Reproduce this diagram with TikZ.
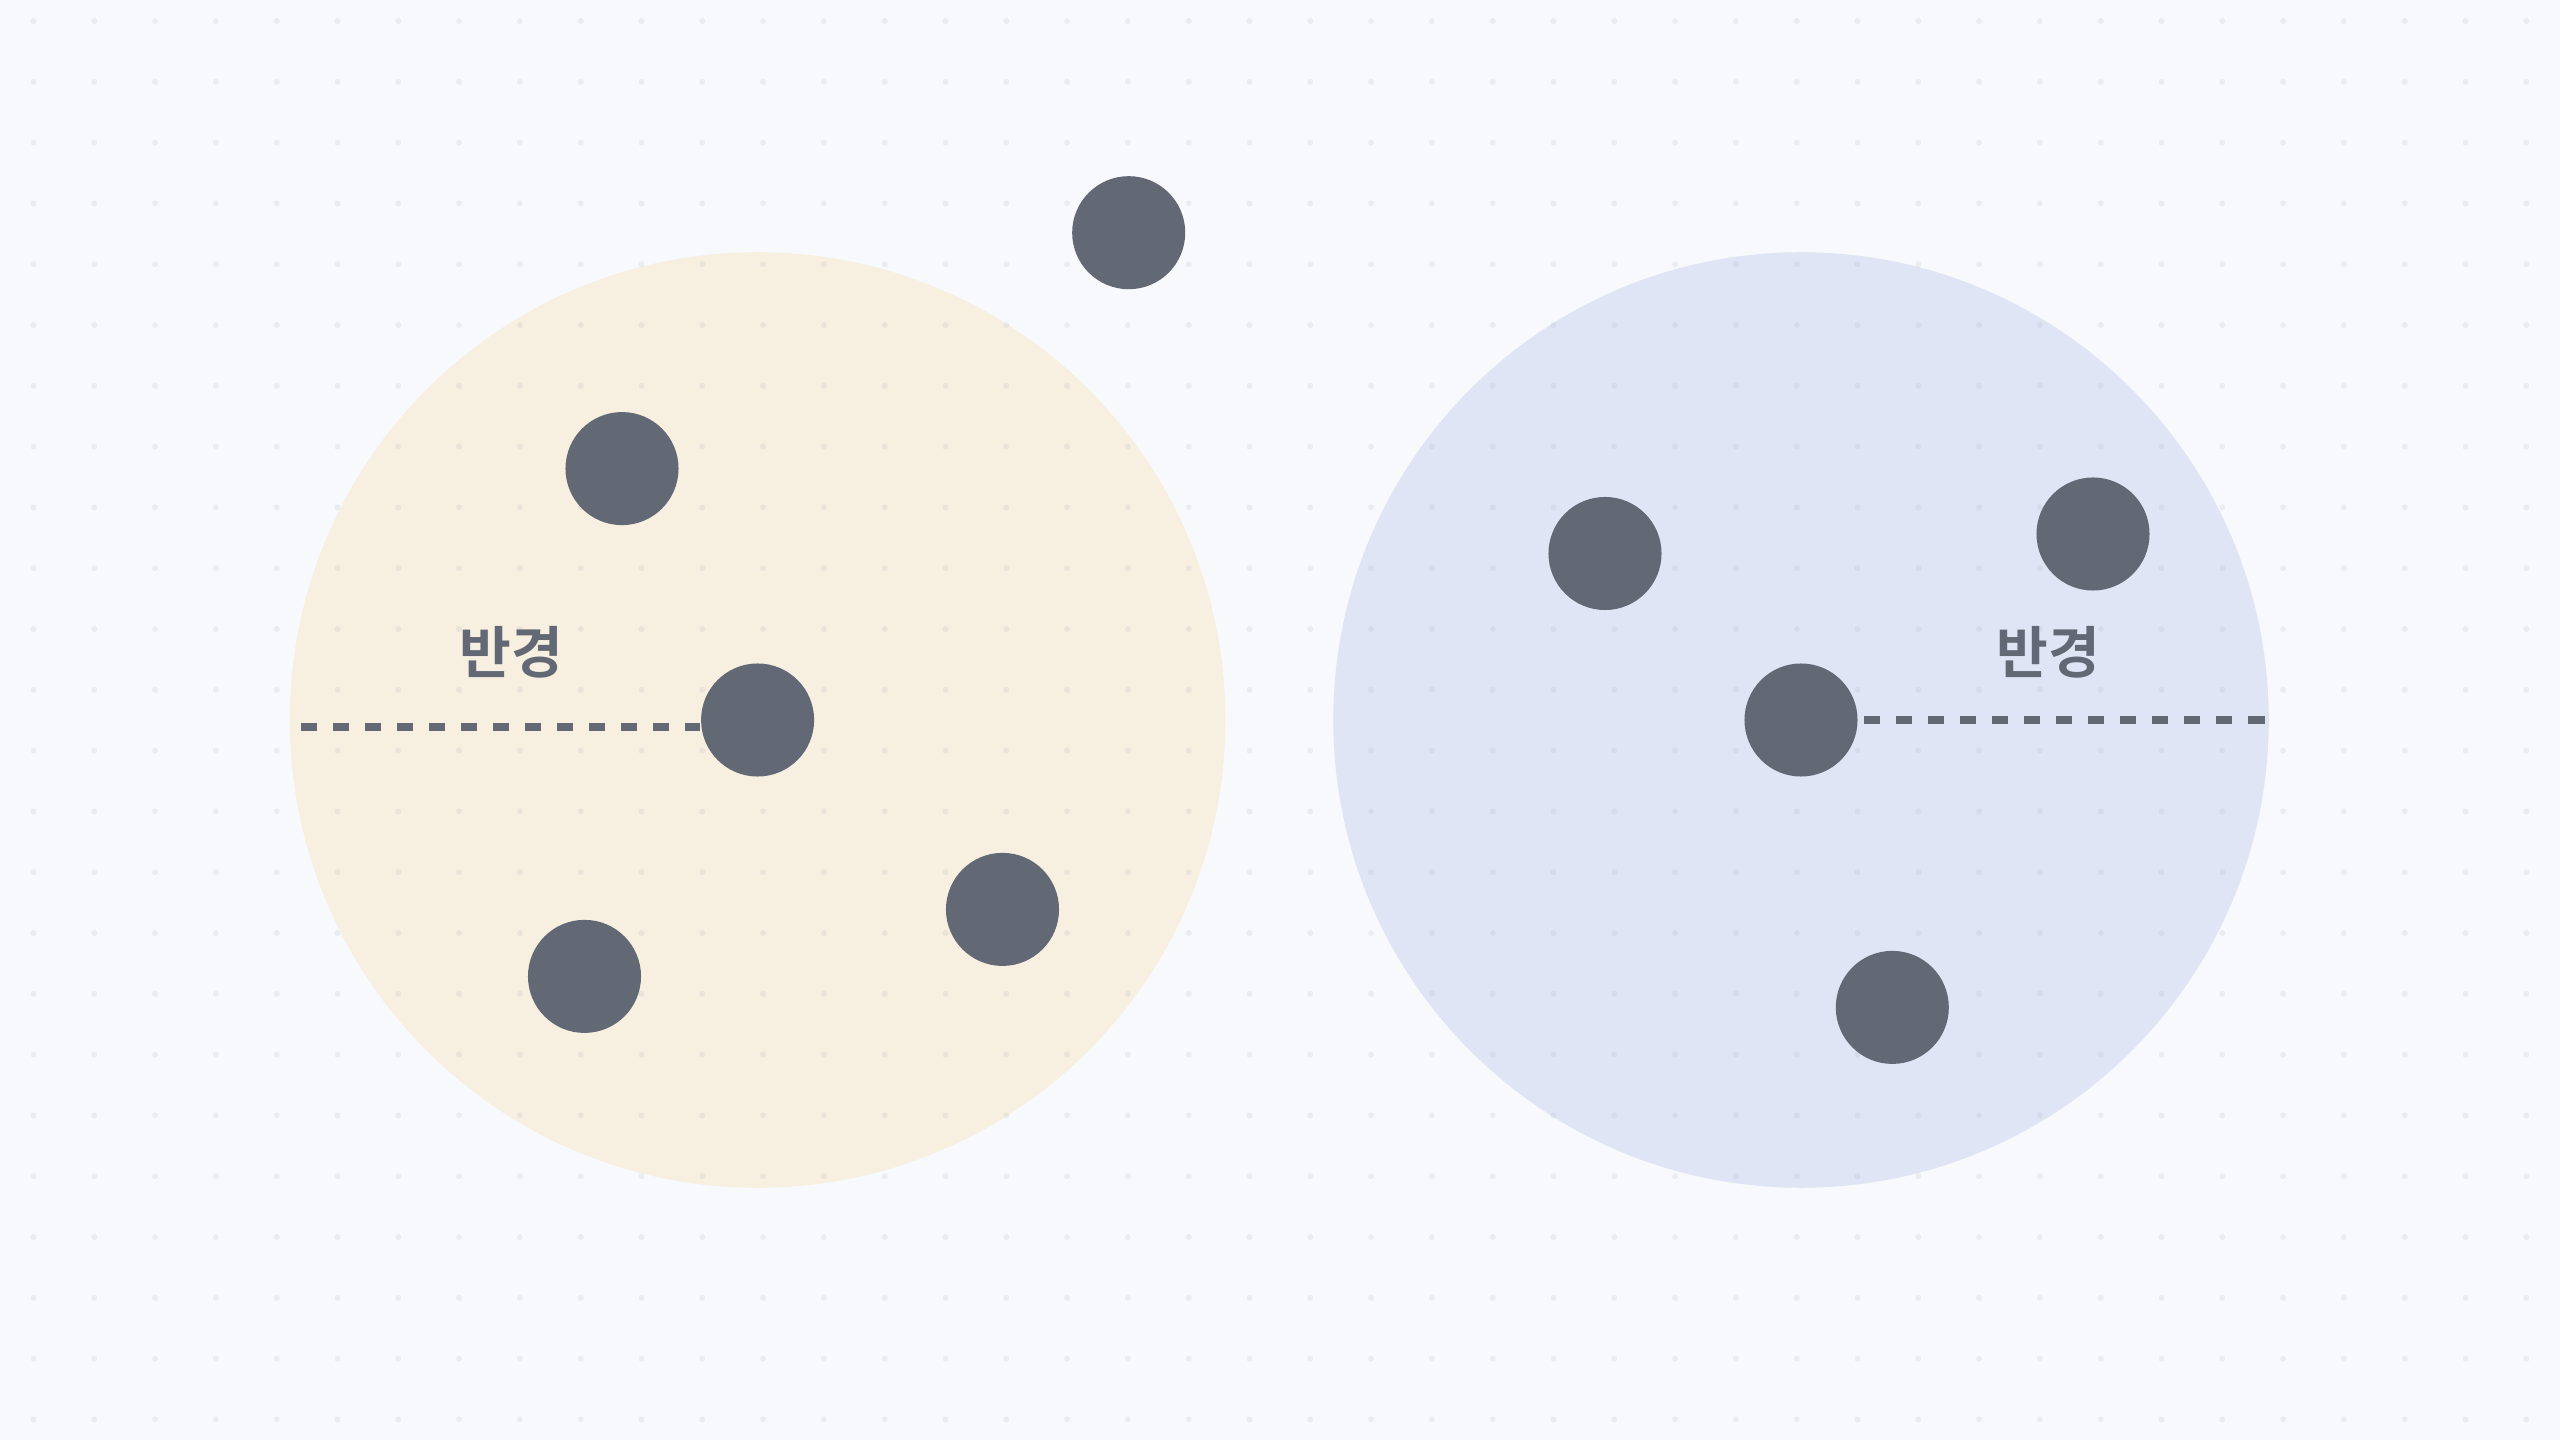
\documentclass[tikz,border=0pt]{standalone}
\usepackage{fontspec}
\newfontfamily\krfont{Noto Sans CJK KR Bold}
\usetikzlibrary{positioning}
\definecolor{FigurePaper}{HTML}{F8F9FC}
\definecolor{FigureGrid}{HTML}{9CA4B6}
\definecolor{FigureSlate}{HTML}{626874}
\definecolor{FigureSand}{HTML}{F7EFE0}
\definecolor{FigureSky}{HTML}{DFE5F4}
\tikzset{
  zone/.style={circle, inner sep=0pt, minimum size=9.35cm},
  member/.style={circle, fill=FigureSlate, inner sep=0pt, minimum size=1.13cm},
  reach/.style={draw=FigureSlate, line width=2pt, dash pattern=on .16cm off .16cm},
  tag/.style={font=\krfont\fontsize{16}{18}\selectfont, text=FigureSlate},
}
\begin{document}
\begin{tikzpicture}[x=0.01cm, y=-0.01cm]
  \fill[FigurePaper] (0,0) rectangle (2560,1440);
  \useasboundingbox (0,0) rectangle (2560,1440);
  % clusters
  \node[zone, fill=FigureSand] (left) at (757.6,720) {};
  \node[zone, fill=FigureSky] (right) at (1801,720) {};
  % dot grid
  \foreach \i in {0,...,41}
    \foreach \j in {0,...,23}
      \fill[FigureGrid, opacity=.15] (33.5+60.8*\i, 21+60.8*\j) circle[radius=3];
  % radius lines
  \coordinate (lrim) at (301,727);
  \coordinate (rrim) at (2265,720);
  \node[member] (lc) at (757.6,720) {};
  \node[member] (rc) at (1801,720) {};
  \draw[reach] (lrim) -- (lrim -| lc.west);
  \draw[reach] ([xshift=.06cm]rc.east) -- (rrim);
  \node[tag] (ltag) at (511,652) {반경};
  \node[tag] (rtag) at (2048,652) {반경};
  % points
  \node[member] (l1) at (622,468.6) {};
  \node[member] (l2) at (1002.5,909.4) {};
  \node[member] (l3) at (584.5,976.4) {};
  \node[member] (stray) at (1128.7,232.7) {};
  \node[member] (r1) at (1605,553.5) {};
  \node[member] (r2) at (2093,534) {};
  \node[member] (r3) at (1892.3,1007.4) {};
\end{tikzpicture}
\end{document}
